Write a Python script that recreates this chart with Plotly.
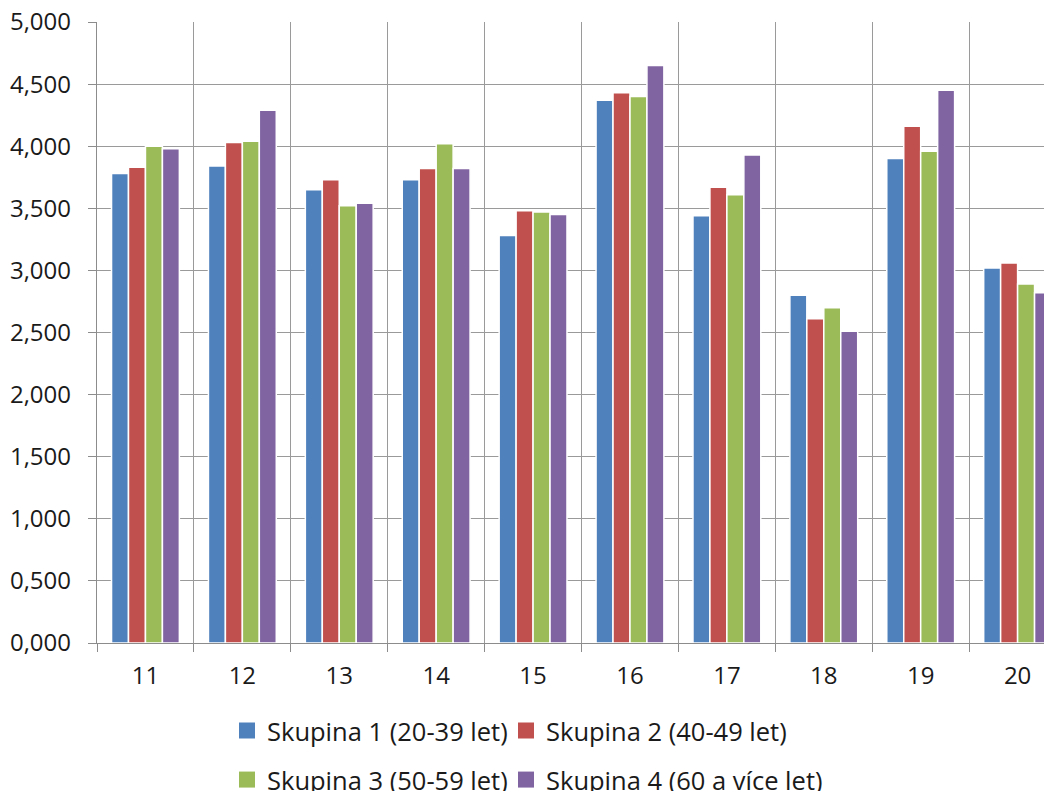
import plotly.graph_objects as go

categories = ["11", "12", "13", "14", "15", "16", "17", "18", "19", "20"]
series_names = ["Skupina 1 (20-39 let)", "Skupina 2 (40-49 let)",
                "Skupina 3 (50-59 let)", "Skupina 4 (60 a více let)"]
skupina1 = [3.78, 3.84, 3.65, 3.73, 3.28, 4.37, 3.44, 2.80, 3.90, 3.02]
skupina2 = [3.83, 4.03, 3.73, 3.82, 3.48, 4.43, 3.67, 2.61, 4.16, 3.06]
skupina3 = [4.00, 4.04, 3.52, 4.02, 3.47, 4.40, 3.61, 2.70, 3.96, 2.89]
skupina4 = [3.98, 4.29, 3.54, 3.82, 3.45, 4.65, 3.93, 2.51, 4.45, 2.82]
colors = ["#4F81BD", "#C0504D", "#9BBB59", "#8064A2"]
y_ticks = [0, 0.5, 1, 1.5, 2, 2.5, 3, 3.5, 4, 4.5, 5]

# page body has an 8px margin, so the figure is 8px smaller than the window
W, H = 1044, 783
FONT = "Open Sans"
TXT = "#1a1a1a"
fig = go.Figure()
legend_ids = ["legend", "legend2", "legend3", "legend4"]
for i, (name, vals) in enumerate(zip(series_names, [skupina1, skupina2, skupina3, skupina4])):
    fig.add_trace(go.Bar(
        x=categories, y=vals, name=name,
        marker=dict(color=colors[i], line=dict(color="white", width=1.5)),
        legendgroup=f"g{i}", showlegend=False,
    ))
    # legend-only proxy with a larger square swatch
    fig.add_trace(go.Scatter(
        x=[None], y=[None], mode="markers", name=name,
        marker=dict(symbol="square", size=16, color=colors[i]),
        legendgroup=f"g{i}", legend=legend_ids[i], showlegend=True,
    ))

# legend positions (figure pixel coords of legend left edge / row centre)
leg_pos = [(219, 723), (498, 723), (219, 772), (498, 772)]
leg_layout = {}
for lid, (px, py) in zip(legend_ids, leg_pos):
    leg_layout[lid] = dict(
        xref="container", yref="container",
        x=px / W, y=1 - py / H, xanchor="left", yanchor="middle",
        orientation="h", font=dict(family=FONT, size=25.5, color=TXT),
        bgcolor="rgba(0,0,0,0)", borderwidth=0,
    )

fig.update_layout(
    width=W, height=H,
    margin=dict(l=89, r=0, t=14, b=148, autoexpand=False),
    paper_bgcolor="white", plot_bgcolor="white",
    barmode="group", bargap=0.3, bargroupgap=0,
    separators=", ",
    font=dict(family=FONT, size=24, color=TXT),
    showlegend=True,
    **leg_layout,
)
fig.update_xaxes(
    type="category", range=[-0.5, 9.355], automargin=False,
    tickson="boundaries", ticks="outside", ticklen=8, tickcolor="#8c8c8c", tickwidth=1.3,
    showgrid=True, gridcolor="#9a9a9a", gridwidth=1.3,
    showline=True, linecolor="#8c8c8c", linewidth=1.3,
    tickfont=dict(family=FONT, size=24, color=TXT),
    ticklabelstandoff=11, ticklabeloverflow="allow",
)
fig.update_yaxes(
    range=[0, 5], tickvals=y_ticks, tickformat=".3f", automargin=False,
    ticks="outside", ticklen=8, tickcolor="#8c8c8c", tickwidth=1.3,
    showgrid=True, gridcolor="#9a9a9a", gridwidth=1.3,
    showline=True, linecolor="#8c8c8c", linewidth=1.3,
    zeroline=False,
    tickfont=dict(family=FONT, size=24, color=TXT),
    ticklabelstandoff=12, ticklabeloverflow="allow",
)
fig.write_html("out.html")
